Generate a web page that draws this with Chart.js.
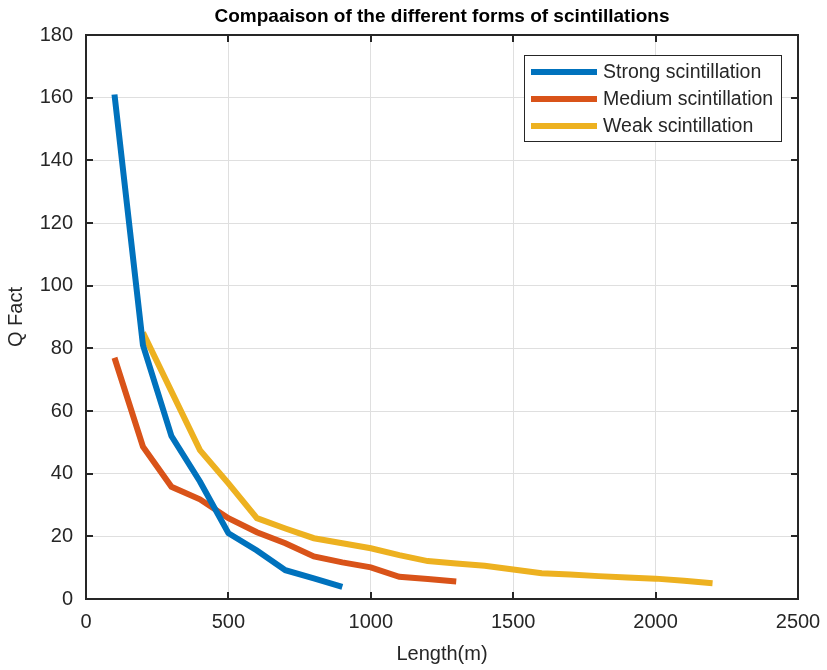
<!DOCTYPE html>
<html>
<head>
<meta charset="utf-8">
<script src="https://cdn.jsdelivr.net/npm/chart.js@4"></script>
<style>
  html, body { margin: 0; padding: 0; background: #fff; }
  #wrap { width: 827px; height: 670px; }
</style>
</head>
<body>
<div id="wrap"><canvas id="qChart"></canvas></div>
<script>
var strongLen = [100, 200, 300, 400, 500, 600, 700, 800, 900];
var strongQ = [161, 81, 52, 37.5, 21, 15.5, 9.2, 6.6, 3.9];

var mediumLen = [100, 200, 300, 400, 500, 600, 700, 800, 900, 1000, 1100, 1200, 1300];
var mediumQ = [77, 48.6, 35.8, 31.8, 25.8, 21.3, 17.8, 13.6, 11.7, 10.1, 7.1, 6.4, 5.6];

var weakLen = [200, 400, 500, 600, 700, 800, 900, 1000, 1100, 1200, 1300, 1400, 1500, 1600, 1700, 1800, 1900, 2000, 2100, 2200];
var weakQ = [85, 47.5, 36.9, 25.8, 22.5, 19.4, 17.8, 16.2, 14, 12.1, 11.3, 10.6, 9.4, 8.2, 7.8, 7.3, 6.9, 6.5, 5.8, 5.0];

var xTicks = [0, 500, 1000, 1500, 2000, 2500];
var yTicks = [0, 20, 40, 60, 80, 100, 120, 140, 160, 180];

var titleText = 'Compaaison of the different forms of scintillations';
var fontFam = '"Liberation Sans", Arial, sans-serif';

function toPoints(xs, ys) {
    return xs.map(function (x, i) { return { x: x, y: ys[i] }; });
}

// matlab-ish axes box, inner ticks, title and floating legend
var axesBox = {
    id: 'axesBox',
    afterDatasetsDraw: function (chart) {
        var ctx = chart.ctx, a = chart.chartArea;
        var xs = chart.scales.x, ys = chart.scales.y;
        ctx.save();
        ctx.strokeStyle = '#262626';
        ctx.lineWidth = 2;
        ctx.beginPath();
        xTicks.forEach(function (v) {
            var px = Math.round(xs.getPixelForValue(v));
            ctx.moveTo(px, a.bottom); ctx.lineTo(px, a.bottom - 7);
            ctx.moveTo(px, a.top); ctx.lineTo(px, a.top + 7);
        });
        yTicks.forEach(function (v) {
            var py = Math.round(ys.getPixelForValue(v));
            ctx.moveTo(a.left, py); ctx.lineTo(a.left + 7, py);
            ctx.moveTo(a.right, py); ctx.lineTo(a.right - 7, py);
        });
        ctx.stroke();
        ctx.strokeRect(a.left, a.top, a.right - a.left, a.bottom - a.top);

        // title
        ctx.fillStyle = '#000';
        ctx.font = 'bold 19px ' + fontFam;
        ctx.textAlign = 'center';
        ctx.textBaseline = 'middle';
        ctx.fillText(titleText, (a.left + a.right) / 2, 17);

        // legend
        var lx = 524, ly = 55, lw = 257, lh = 86;
        ctx.fillStyle = '#fff';
        ctx.fillRect(lx, ly, lw, lh);
        ctx.strokeStyle = '#262626';
        ctx.lineWidth = 1;
        ctx.strokeRect(lx + 0.5, ly + 0.5, lw, lh);
        ctx.font = '19.5px ' + fontFam;
        ctx.textAlign = 'left';
        chart.data.datasets.forEach(function (ds, i) {
            var yy = ly + 17 + i * 27;
            ctx.strokeStyle = ds.borderColor;
            ctx.lineWidth = 6;
            ctx.beginPath();
            ctx.moveTo(lx + 7, yy); ctx.lineTo(lx + 73, yy);
            ctx.stroke();
            ctx.fillStyle = '#262626';
            ctx.fillText(ds.label, lx + 79, yy + 1);
        });
        ctx.restore();
    }
};

document.addEventListener('DOMContentLoaded', function () {
    var ctx = document.getElementById('qChart').getContext('2d');
    var qChart = new Chart(ctx, {
        type: 'line',
        data: {
            datasets: [
                {
                    label: 'Strong scintillation',
                    data: toPoints(strongLen, strongQ),
                    borderColor: '#0072BD',
                    borderWidth: 6,
                    pointRadius: 0,
                    fill: false,
                    tension: 0
                },
                {
                    label: 'Medium scintillation',
                    data: toPoints(mediumLen, mediumQ),
                    borderColor: '#D95319',
                    borderWidth: 6,
                    pointRadius: 0,
                    fill: false,
                    tension: 0
                },
                {
                    label: 'Weak scintillation',
                    data: toPoints(weakLen, weakQ),
                    borderColor: '#EDB120',
                    borderWidth: 6,
                    pointRadius: 0,
                    fill: false,
                    tension: 0
                }
            ]
        },
        options: {
            responsive: true,
            maintainAspectRatio: false,
            animation: false,
            layout: {
                padding: { top: 35, right: 29, left: 0, bottom: 0 }
            },
            plugins: {
                legend: { display: false },
                title: { display: false },
                tooltip: { enabled: false }
            },
            scales: {
                x: {
                    type: 'linear',
                    min: 0,
                    max: 2500,
                    afterBuildTicks: function (scale) {
                        scale.ticks = xTicks.map(function (v) { return { value: v }; });
                    },
                    afterFit: function (scale) {
                        scale.height = 71;
                        scale.paddingLeft = 0;
                        scale.paddingRight = 0;
                    },
                    ticks: {
                        color: '#262626',
                        padding: 11,
                        maxRotation: 0,
                        callback: function (v) { return String(v); },
                        font: { family: fontFam, size: 20 }
                    },
                    grid: {
                        color: '#dfdfdf',
                        lineWidth: 1,
                        drawTicks: false
                    },
                    border: { display: false },
                    title: {
                        display: true,
                        text: 'Length(m)',
                        color: '#262626',
                        padding: { top: 0, bottom: 4 },
                        font: { family: fontFam, size: 20 }
                    }
                },
                y: {
                    type: 'linear',
                    min: 0,
                    max: 180,
                    afterBuildTicks: function (scale) {
                        scale.ticks = yTicks.map(function (v) { return { value: v }; });
                    },
                    afterFit: function (scale) {
                        scale.width = 86;
                        scale.paddingTop = 0;
                        scale.paddingBottom = 0;
                    },
                    ticks: {
                        color: '#262626',
                        padding: 13,
                        callback: function (v) { return String(v); },
                        font: { family: fontFam, size: 20 }
                    },
                    grid: {
                        color: '#dfdfdf',
                        lineWidth: 1,
                        drawTicks: false
                    },
                    border: { display: false },
                    title: {
                        display: true,
                        text: 'Q Fact',
                        color: '#262626',
                        padding: { top: 4, bottom: 0 },
                        font: { family: fontFam, size: 20 }
                    }
                }
            }
        },
        plugins: [axesBox]
    });
});
</script>
</body>
</html>
